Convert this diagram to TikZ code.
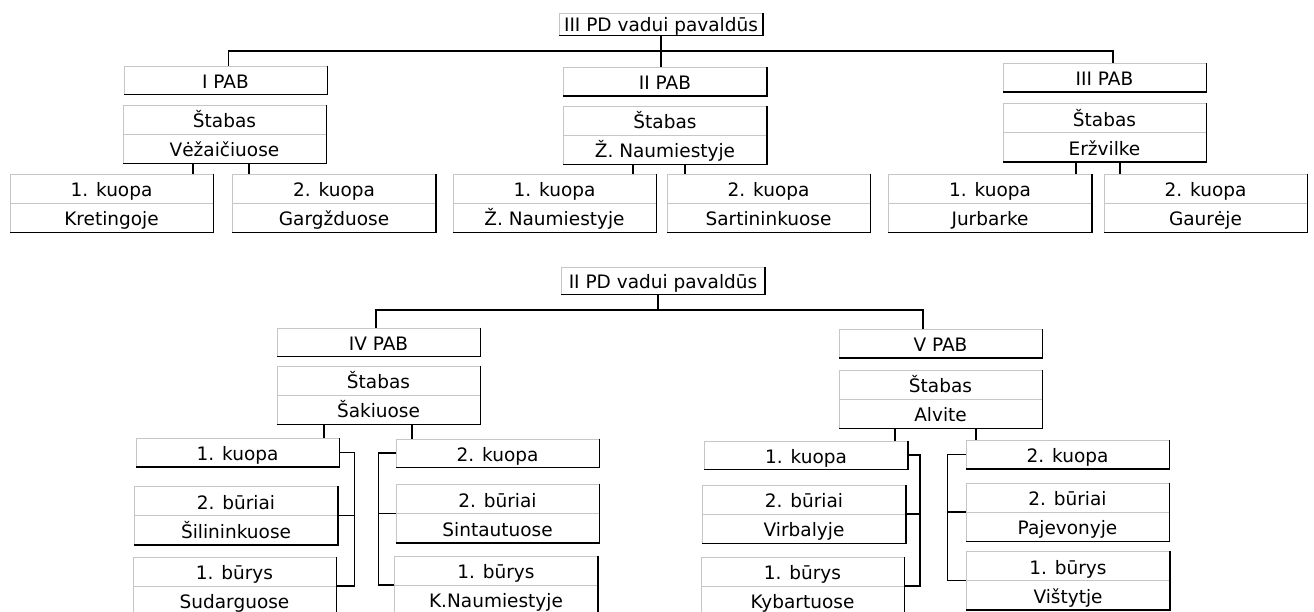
\documentclass[tikz,border=0pt]{standalone}
\usepackage{fontspec}
\setmainfont{DejaVu Sans}
\usetikzlibrary{shapes.multipart}
\newcommand{\rw}{\rule[-6pt]{0pt}{28pt}}

\begin{document}
\begin{tikzpicture}[x=1pt,y=-1pt,
    box/.style={rectangle,draw=gray!45,line width=1pt,minimum width=203pt,inner xsep=2pt,inner ysep=0pt,font=\fontsize{18.5}{22}\selectfont},
    pair/.style={box,rectangle split,rectangle split parts=2},
    edge/.style={line width=1.4pt},
    rim/.style={line width=1.6pt}]
    \useasboundingbox (0,0) rectangle (1314,611);
    \clip (0,0) rectangle (1314,611);

    % III PD
    \node at (661,24) [box] (pd3) {\rule[-4pt]{0pt}{22pt}III PD vadui pavaldūs};
    \node at (225.5,80) [box] (pab1) {\rw I PAB};
    \node at (665,81.5) [box] (pab2) {\rw II PAB};
    \node at (1104.5,77.5) [box] (pab3) {\rw III PAB};
    \node at (224.5,134) [pair] (st1) {\rw Štabas \nodepart{two}\rw Vėžaičiuose};
    \node at (665,135) [pair] (st2) {\rw Štabas \nodepart{two}\rw Ž. Naumiestyje};
    \node at (1104.5,132.5) [pair] (st3) {\rw Štabas \nodepart{two}\rw Eržvilke};
    \node at (111.5,203) [pair] (k11) {\rw 1. kuopa \nodepart{two}\rw Kretingoje};
    \node at (334,203) [pair] (k12) {\rw 2. kuopa \nodepart{two}\rw Gargždu\-ose};
    \node at (554.5,203) [pair] (k21) {\rw 1. kuopa \nodepart{two}\rw Ž. Naumiestyje};
    \node at (768.5,203) [pair] (k22) {\rw 2. kuopa \nodepart{two}\rw Sartininkuose};
    \node at (990,203) [pair] (k31) {\rw 1. kuopa \nodepart{two}\rw Jurbarke};
    \node at (1205.5,203) [pair] (k32) {\rw 2. kuopa \nodepart{two}\rw Gaurėje};

    % II PD
    \node at (663,280.5) [box] (pd2) {\rule[-6pt]{0pt}{27pt}II PD vadui pavaldūs};
    \node at (378.5,342) [box] (pab4) {\rw IV PAB};
    \node at (940.5,343.5) [box] (pab5) {\rw V PAB};
    \node at (378.5,395) [pair] (st4) {\rw Štabas \nodepart{two}\rw Šakiuose};
    \node at (940.5,399) [pair] (st5) {\rw Štabas \nodepart{two}\rw Alvite};
    \node at (237.5,452.5) [box] (k41) {\rw 1. kuopa};
    \node at (236,515.5) [pair] (b41) {\rw 2. būriai \nodepart{two}\rw Šilininkuose};
    \node at (234.5,586) [pair] (c41) {\rw 1. būrys \nodepart{two}\rw Sudarguose};
    \node at (497.5,453) [box] (k42) {\rw 2. kuopa};
    \node at (497.5,513.5) [pair] (b42) {\rw 2. būriai \nodepart{two}\rw Sintautuose};
    \node at (496,585) [pair] (c42) {\rw 1. būrys \nodepart{two}\rw K.Naumiestyje};
    \node at (806,455) [box] (k51) {\rw 1. kuopa};
    \node at (804,514) [pair] (b51) {\rw 2. būriai \nodepart{two}\rw Virbalyje};
    \node at (802.5,586) [pair] (c51) {\rw 1. būrys \nodepart{two}\rw Kybartuose};
    \node at (1067.5,454.5) [box] (k52) {\rw 2. kuopa};
    \node at (1067.5,512) [pair] (b52) {\rw 2. būriai \nodepart{two}\rw Pajevonyje};
    \node at (1068,580.5) [pair] (c52) {\rw 1. būrys \nodepart{two}\rw Vištytje};

    \foreach \n in {pd3,pab1,pab2,pab3,st1,st2,st3,k11,k12,k21,k22,k31,k32,
        pd2,pab4,pab5,st4,st5,k41,b41,c41,k42,b42,c42,k51,b51,c51,k52,b52,c52}
        \draw[rim] (\n.north east) -- (\n.south east) -- (\n.south west);

    \coordinate (bus3) at (660,51);
    \draw[edge] (pd3) -- (pd3 |- pab2.north);
    \draw[edge] ([xshift=3pt]pab1.north) |- (bus3) -| ([xshift=8.5pt]pab3.north);
    \coordinate (bus2) at (658,310);
    \draw[edge] ([xshift=-5pt]pd2.south) -- (bus2);
    \draw[edge] ([xshift=-2.5pt]pab4.north) |- (bus2) -| ([xshift=-17.5pt]pab5.north);

    \foreach \s/\k/\d in {st1/k11/-31.5,st1/k12/24.5,st2/k21/-32,st2/k22/20,st3/k31/-28.5,st3/k32/15.5,
        st4/k41/-54.5,st4/k42/33.5,st5/k51/-45.5,st5/k52/35.5}
        \draw[edge] ([xshift=\d pt]\s.south) -- ([xshift=\d pt]\s.south |- \k.north);

    \draw[edge] (k41.east) -- ++(15,0) coordinate (r4) |- (c41.east);
    \draw[edge] (b41.east) -- (b41.east -| r4);
    \draw[edge] (k42.west) -- ++(-17,0) coordinate (l4) |- (c42.west);
    \draw[edge] (b42.west) -- (b42.west -| l4);
    \draw[edge] (k51.east) -- ++(12,0) coordinate (r5) |- (c51.east);
    \draw[edge] (b51.east) -- (b51.east -| r5);
    \draw[edge] (k52.west) -- ++(-18,0) coordinate (l5) |- (c52.west);
    \draw[edge] (b52.west) -- (b52.west -| l5);
\end{tikzpicture}
\end{document}
